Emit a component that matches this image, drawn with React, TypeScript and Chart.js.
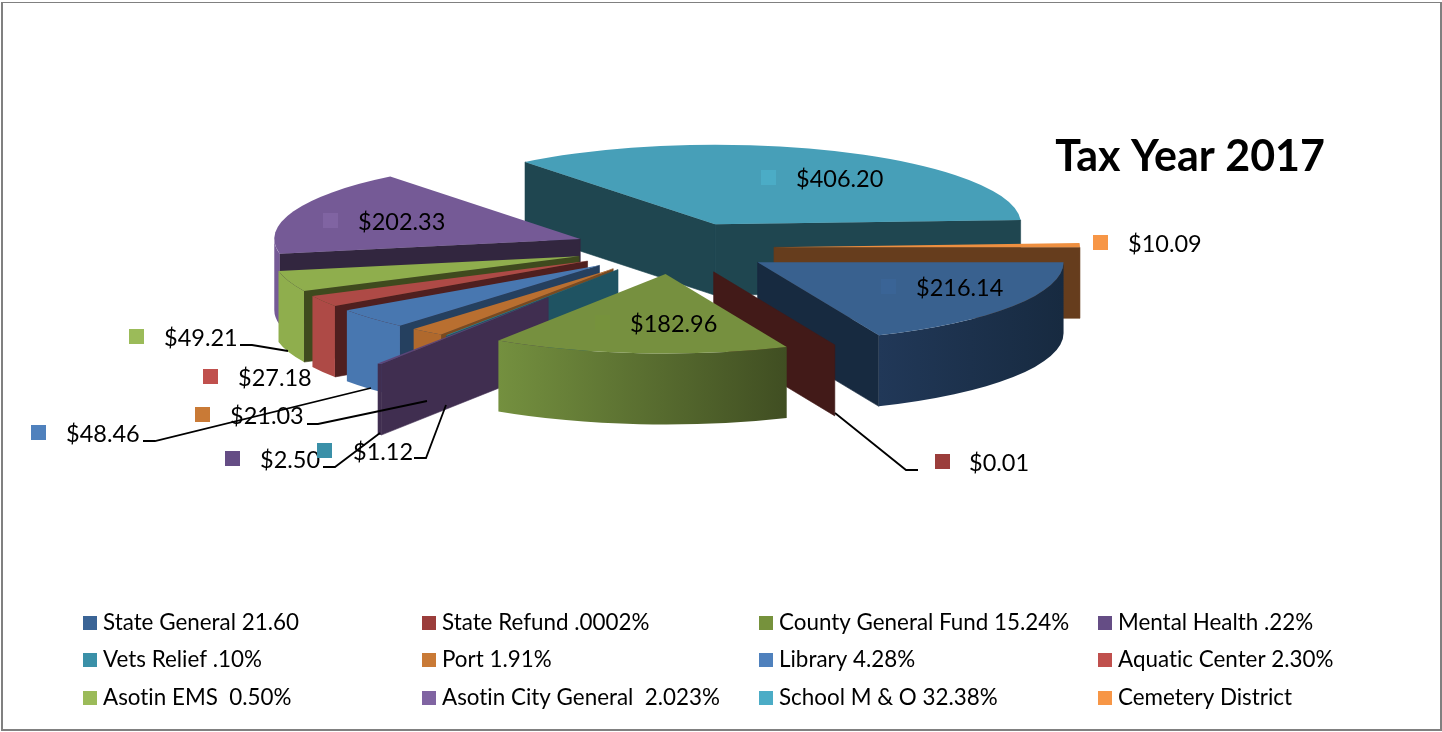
import React, { useEffect, useRef } from "react";
import { Chart, registerables } from "chart.js";

Chart.register(...registerables);

const legendLabels = [
  "State General 21.60", "State Refund .0002%", "County General Fund 15.24%", "Mental Health .22%",
  "Vets Relief .10%", "Port 1.91%", "Library 4.28%", "Aquatic Center 2.30%",
  "Asotin EMS  0.50%", "Asotin City General  2.023%", "School M & O 32.38%", "Cemetery District",
];
const taxValues = [216.14, 0.01, 182.96, 2.5, 1.12, 21.03, 48.46, 27.18, 49.21, 202.33, 406.2, 10.09];

const keyColors = ["#3a6496", "#9b3d3b", "#76923c", "#654d85", "#3a90a8", "#c97a36", "#4f81bd", "#c0504d", "#9bbb59", "#8064a2", "#4bacc6", "#f79646"];
const topColors = ["#39618f", "#8f2f2f", "#76903f", "#5c4578", "#2f8296", "#b96f30", "#4877b0", "#ae4a46", "#8fae4d", "#755a96", "#479fb8", "#ee8f40"];
const radialColors = ["#172a40", "#421a18", "#3f4d22", "#402e50", "#1f5362", "#7a4a20", "#25405f", "#4f1f1f", "#3f4a1e", "#32263f", "#1f4650", "#663d1d"];
const wallLeft = ["#213858", "#421a18", "#74903f", "#402e50", "#1f5362", "#b0692d", "#4877b0", "#ae4a46", "#8fae4d", "#755a96", "#479fb8", "#663d1d"];
const wallRight = ["#172a40", "#421a18", "#404e22", "#402e50", "#1f5362", "#b0692d", "#4877b0", "#ae4a46", "#8fae4d", "#755a96", "#479fb8", "#663d1d"];

const paintOrder = [10, 11, 0, 1, 9, 8, 7, 6, 5, 4, 3, 2];

const PIE_X = 674;
const PIE_Y = 248;
const RADIUS = 306;
const TILT = 0.26;
const DEPTH = 71;

// where each value label sits: marker left, text left, centre line
const labelSpots = [
  [881, 916, 287], [935, 969, 462], [595, 630, 323], [225, 260, 459],
  [317, 353, 451], [195, 230, 415], [31, 66, 433], [203, 238, 377],
  [129, 164, 337], [323, 358, 221], [761, 796, 178], [1093, 1128, 243],
];
const leaderLines: Record<number, number[][]> = {
  8: [[240, 345], [252, 345], [288, 351]],
  6: [[143, 441], [155, 441], [371, 388]],
  5: [[307, 424], [318, 424], [427, 401]],
  3: [[323, 467], [335, 467], [380, 433]],
  4: [[414, 458], [426, 458], [446, 405]],
  1: [[835, 413], [906, 470], [918, 470]],
};
const legendColumns = [83, 422, 759, 1098];
const legendRows = [623, 660, 698];

const money = (v: number) => "$" + v.toFixed(2);

const pie3d = {
  id: "pie3d",
  beforeDraw(chart: any) {
    const { ctx } = chart;
    ctx.save();
    ctx.fillStyle = "#ffffff";
    ctx.fillRect(0, 0, 1442, 732);
    ctx.fillStyle = "#808080";
    ctx.fillRect(1, 2, 1441, 1);
    ctx.fillRect(1, 2, 2, 729);
    ctx.fillRect(1440, 2, 2, 729);
    ctx.fillRect(1, 729, 1441, 2);
    ctx.restore();
  },
  beforeDatasetsDraw(chart: any) {
    const { ctx } = chart;
    const arcs = chart.getDatasetMeta(0).data;
    ctx.save();
    (ctx as any).textRendering = "optimizeSpeed";

    for (const i of paintOrder) {
      const el = arcs[i];
      const a0 = el.startAngle;
      const a1 = el.endAngle;
      const mid = (a0 + a1) / 2;
      const off = el.options.offset;
      const ax = PIE_X + off * Math.cos(mid);
      const ay = PIE_Y + off * TILT * Math.sin(mid);
      const rim = (a: number) => [ax + RADIUS * Math.cos(a), ay + RADIUS * TILT * Math.sin(a)];

      const radial = (a: number) => {
        const [x, y] = rim(a);
        ctx.beginPath();
        ctx.moveTo(ax, ay);
        ctx.lineTo(x, y);
        ctx.lineTo(x, y + DEPTH);
        ctx.lineTo(ax, ay + DEPTH);
        ctx.closePath();
        ctx.fillStyle = radialColors[i];
        ctx.strokeStyle = radialColors[i];
        ctx.lineWidth = 0.6;
        ctx.fill();
        ctx.stroke();
      };
      if (Math.cos(a0) < 0) radial(a0);
      if (Math.cos(a1) > 0) radial(a1);

      const f0 = Math.max(a0, 0);
      const f1 = Math.min(a1, Math.PI);
      if (f1 > f0) {
        const [x0] = rim(f1);
        const [x1] = rim(f0);
        const g = ctx.createLinearGradient(x0, 0, x1, 0);
        g.addColorStop(0, wallLeft[i]);
        g.addColorStop(1, wallRight[i]);
        ctx.beginPath();
        ctx.ellipse(ax, ay, RADIUS, RADIUS * TILT, 0, f0, f1);
        ctx.ellipse(ax, ay + DEPTH, RADIUS, RADIUS * TILT, 0, f1, f0, true);
        ctx.closePath();
        ctx.fillStyle = g;
        ctx.fill();
      }

      ctx.beginPath();
      ctx.moveTo(ax, ay);
      ctx.ellipse(ax, ay, RADIUS, RADIUS * TILT, 0, a0, a1);
      ctx.closePath();
      ctx.fillStyle = topColors[i];
      ctx.fill();
    }

    ctx.strokeStyle = "#000000";
    ctx.lineWidth = 1.8;
    Object.values(leaderLines).forEach((pts) => {
      ctx.beginPath();
      pts.forEach(([x, y], k) => (k ? ctx.lineTo(x, y) : ctx.moveTo(x, y)));
      ctx.stroke();
    });

    ctx.textBaseline = "middle";
    ctx.textAlign = "left";
    taxValues.forEach((v, i) => {
      const [kx, tx, y] = labelSpots[i];
      ctx.fillStyle = keyColors[i];
      ctx.fillRect(kx, y - 8, 15, 15);
      ctx.fillStyle = "#000000";
      ctx.font = "23.5px Lato";
      ctx.fillText(money(v), tx, y + 1);
    });

    ctx.font = "22.4px Lato";
    chart.data.labels.forEach((t: string, i: number) => {
      const x = legendColumns[i % 4];
      const y = legendRows[Math.floor(i / 4)];
      ctx.fillStyle = keyColors[i];
      ctx.fillRect(x, y - 7, 14, 14);
      ctx.fillStyle = "#000000";
      ctx.fillText(t, x + 20, y);
    });
    ctx.restore();
    return false;
  },
};

export default function App() {
  const ref = useRef<HTMLCanvasElement>(null);
  useEffect(() => {
    const chart = new Chart(ref.current as HTMLCanvasElement, {
      type: "pie",
      data: {
        labels: legendLabels,
        datasets: [{
          data: taxValues,
          backgroundColor: topColors,
          borderWidth: 0,
          offset: (c: any) => (c.dataIndex === 3 ? 228 : 100),
        }],
      },
      options: {
        responsive: false,
        animation: false,
        events: [],
        rotation: 90,
        layout: { padding: { right: 117 } },
        plugins: {
          legend: { display: false },
          tooltip: { enabled: false },
          title: {
            display: true,
            text: "Tax Year 2017",
            align: "end",
            color: "#000000",
            font: { family: "Lato", size: 43, weight: "bold" },
            padding: { top: 131, bottom: 0 },
          },
        },
      },
      plugins: [pie3d],
    } as any);
    return () => chart.destroy();
  }, []);
  return (
    <div style={{ position: "fixed", left: 0, top: 0, width: 1442, height: 732 }}>
      <canvas ref={ref} width={1442} height={732} style={{ display: "block" }} />
    </div>
  );
}
